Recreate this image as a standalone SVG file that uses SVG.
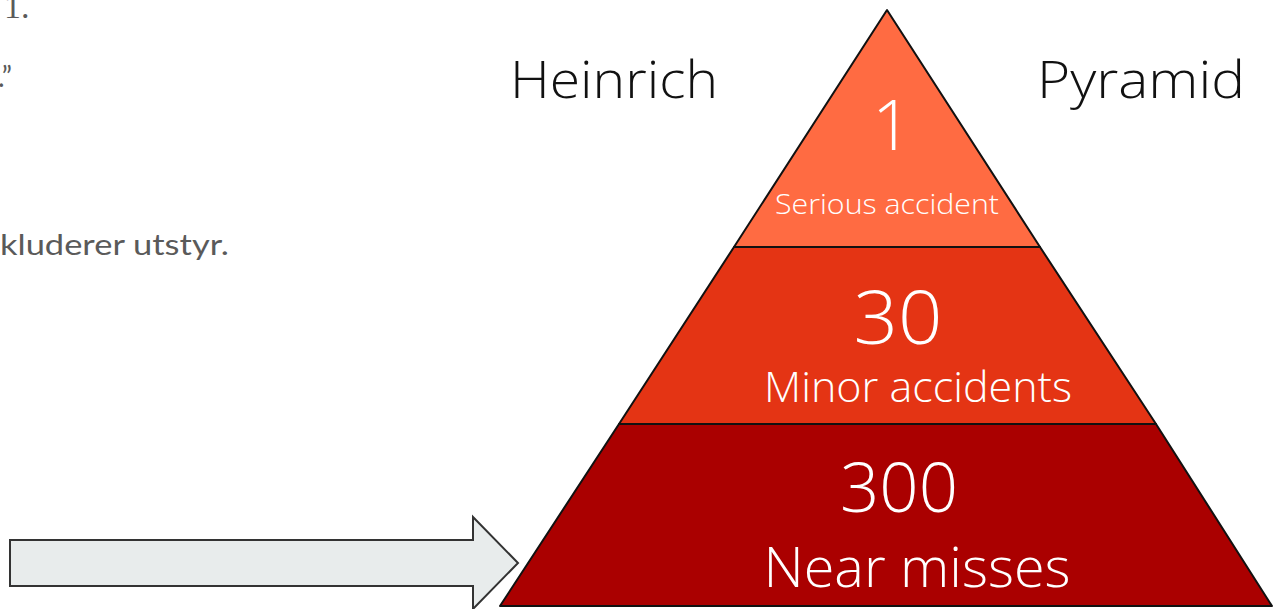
<svg xmlns="http://www.w3.org/2000/svg" width="1274" height="609" viewBox="0 0 1274 609">
<style>
.tier{stroke:#111;stroke-width:2;stroke-linejoin:round}
.w{fill:#fff;font-family:"Open Sans","Noto Sans",sans-serif;font-weight:300;text-anchor:middle}
.title{fill:#111;font-family:"Open Sans","Noto Sans",sans-serif;font-weight:300;font-size:52px}
.side{fill:#5a5a5a;font-family:Lato,"Noto Sans",sans-serif;font-size:28px}
</style>
<rect width="1274" height="609" fill="#fff"/>
<g id="left-text">
<text x="4" y="18" style="fill:#5a5a5a;font-family:'Liberation Serif',serif;font-size:34px">1.</text>
<text x="-2" y="87" class="side">.”</text>
<text x="0" y="255" class="side" textLength="229" lengthAdjust="spacingAndGlyphs">kluderer utstyr.</text>
</g>
<g id="title">
<text x="510" y="98" class="title" textLength="208" lengthAdjust="spacingAndGlyphs">Heinrich</text>
<text x="1037" y="98" class="title" textLength="208" lengthAdjust="spacingAndGlyphs">Pyramid</text>
</g>
<g id="tier-top">
<polygon class="tier" points="887,10 734,247 1040,247" fill="#FF6B42"/>
<text x="892" y="150" class="w" style="font-size:70px">1</text>
<text x="887" y="214" class="w" style="font-size:28px" textLength="224" lengthAdjust="spacingAndGlyphs">Serious accident</text>
</g>
<g id="tier-middle">
<polygon class="tier" points="734,247 1040,247 1156,424 619,424" fill="#E43414"/>
<text x="898" y="344" class="w" style="font-size:74px" textLength="89" lengthAdjust="spacingAndGlyphs">30</text>
<text x="918" y="402" class="w" style="font-size:42px" textLength="308" lengthAdjust="spacingAndGlyphs">Minor accidents</text>
</g>
<g id="tier-bottom">
<polygon class="tier" points="619,424 1156,424 1272,606 500,606" fill="#AA0000"/>
<text x="899" y="512" class="w" style="font-size:68px" textLength="118" lengthAdjust="spacingAndGlyphs">300</text>
<text x="917" y="587" class="w" style="font-size:56px" textLength="307" lengthAdjust="spacingAndGlyphs">Near misses</text>
</g>
<g id="connectors">
<polygon points="10,540 473,540 473,517 518,563 473,609 473,586 10,586" fill="#E8ECEC" stroke="#333" stroke-width="2"/>
</g>
</svg>
